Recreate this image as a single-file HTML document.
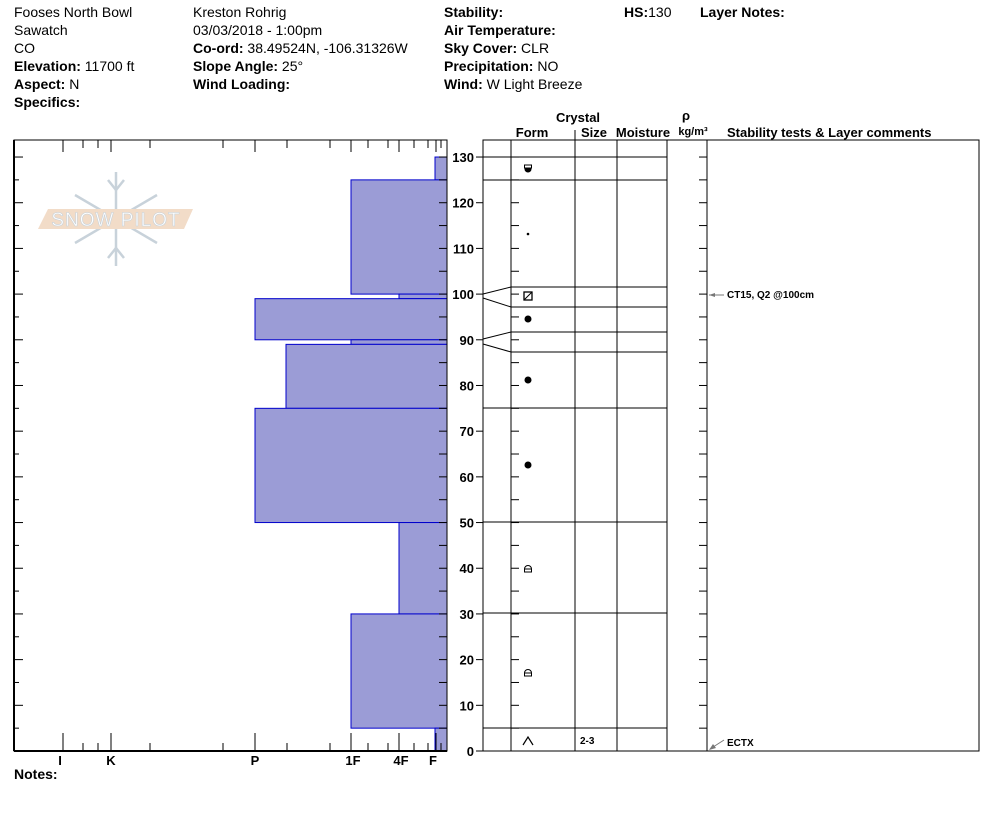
<!DOCTYPE html>
<html><head><meta charset="utf-8"><style>
body{margin:0;background:#fff;width:994px;height:840px;overflow:hidden;font-family:"Liberation Sans",Arial,sans-serif}
svg{position:absolute;left:0;top:0}
</style></head><body>
<svg id="s" width="994" height="840" xmlns="http://www.w3.org/2000/svg" font-family="Liberation Sans, Arial, sans-serif">
<g font-size="14" fill="#000">
<text x="14" y="17">Fooses North Bowl</text>
<text x="14" y="35">Sawatch</text>
<text x="14" y="53">CO</text>
<text x="14" y="71"><tspan font-weight="bold">Elevation:</tspan> 11700 ft</text>
<text x="14" y="89"><tspan font-weight="bold">Aspect:</tspan> N</text>
<text x="14" y="107" font-weight="bold">Specifics:</text>
<text x="193" y="17">Kreston Rohrig</text>
<text x="193" y="35">03/03/2018 - 1:00pm</text>
<text x="193" y="53"><tspan font-weight="bold">Co-ord:</tspan> 38.49524N, -106.31326W</text>
<text x="193" y="71"><tspan font-weight="bold">Slope Angle:</tspan> 25°</text>
<text x="193" y="89" font-weight="bold">Wind Loading:</text>
<text x="444" y="17" font-weight="bold">Stability:</text>
<text x="444" y="35" font-weight="bold">Air Temperature:</text>
<text x="444" y="53"><tspan font-weight="bold">Sky Cover:</tspan> CLR</text>
<text x="444" y="71"><tspan font-weight="bold">Precipitation:</tspan> NO</text>
<text x="444" y="89"><tspan font-weight="bold">Wind:</tspan>  W Light Breeze</text>
<text x="624" y="17"><tspan font-weight="bold">HS:</tspan>130</text>
<text x="700" y="17" font-weight="bold">Layer Notes:</text>
<text x="14" y="779" font-weight="bold">Notes:</text>
</g>
<!-- logo -->
<g stroke="#c8d2da" stroke-width="2.5" fill="none">
<line x1="116" y1="172" x2="116" y2="266"/>
<line x1="75" y1="195" x2="157" y2="243"/>
<line x1="75" y1="243" x2="157" y2="195"/>
<polyline points="108,180 116,190 124,180"/><polyline points="108,258 116,248 124,258"/>
</g>
<polygon points="48,209 193,209 184,229 38,229" fill="#f2dcc8"/>
<text x="116" y="226" text-anchor="middle" font-size="19" fill="#fff" stroke="#c8d2da" stroke-width="0.6" letter-spacing="1">SNOW PILOT</text>
<g id="g" stroke="#000" fill="none" stroke-width="1"></g>
<g font-size="13" font-weight="bold" fill="#000">
<text x="578" y="122" text-anchor="middle">Crystal</text>
<text x="532" y="137" text-anchor="middle">Form</text>
<text x="594" y="137" text-anchor="middle">Size</text>
<text x="643" y="137" text-anchor="middle">Moisture</text>
<text x="686" y="120" text-anchor="middle">ρ</text>
<text x="693" y="135" text-anchor="middle" font-size="11">kg/m³</text>
<text x="727" y="137">Stability tests &amp; Layer comments</text>
<text x="60" y="765" text-anchor="middle">I</text>
<text x="111" y="765" text-anchor="middle">K</text>
<text x="255" y="765" text-anchor="middle">P</text>
<text x="353" y="765" text-anchor="middle">1F</text>
<text x="401" y="765" text-anchor="middle">4F</text>
<text x="433" y="765" text-anchor="middle">F</text>
<text x="580" y="744" font-size="10">2-3</text>
<text x="727" y="298" font-size="10">CT15, Q2 @100cm</text>
<text x="727" y="746" font-size="10">ECTX</text>
</g>
<g fill="#000">
<circle cx="528" cy="169" r="3.5"/><rect x="524.5" y="165" width="7" height="3" fill="#fff" stroke="#000" stroke-width="1"/>
<circle cx="528" cy="234" r="1.3"/>
<rect x="524" y="292" width="8" height="8" fill="none" stroke="#000" stroke-width="1.3"/><line x1="524" y1="300" x2="532" y2="292" stroke="#000"/>
<circle cx="528" cy="319" r="3.5"/><circle cx="528" cy="380" r="3.5"/><circle cx="528" cy="465" r="3.5"/>
<path d="M524.5 572 v-3 a3.5 3.5 0 0 1 7 0 v3 z M524.5 569 h7" fill="none" stroke="#000"/>
<path d="M524.5 676 v-3 a3.5 3.5 0 0 1 7 0 v3 z M524.5 673 h7" fill="none" stroke="#000"/>
<polyline points="523,745 528,737 533,745" fill="none" stroke="#000" stroke-width="1.2"/>
<line x1="709" y1="295" x2="724" y2="295" stroke="#777"/><polygon points="709,295 715,293 715,297" fill="#777"/>
<line x1="710" y1="749" x2="724" y2="740" stroke="#777"/><polygon points="709,750 713,744 716,748" fill="#777"/>
</g>
</svg>
<script>
var g=document.getElementById('g'),h='';
function Y(c){return 751-4.569*c}
function L(a,b,c,d,col,w){h+='<line x1="'+a+'" y1="'+b+'" x2="'+c+'" y2="'+d+'"'+(col?' stroke="'+col+'"':'')+(w?' stroke-width="'+w+'"':'')+'/>';}
var bars=[[130,125,435],[125,100,351],[100,99,399],[99,90,255],[90,89,351],[89,75,286],[75,50,255],[50,30,399],[30,5,351],[5,0,435]];
bars.forEach(function(b){var y1=Y(b[0]),y2=Y(b[1]);h+='<rect x="'+b[2]+'" y="'+y1+'" width="'+(447-b[2])+'" height="'+(y2-y1)+'" fill="#9b9cd6" stroke="#0000cc" stroke-width="1"/>';});
h+='<rect x="14" y="140" width="433" height="611" fill="none" stroke="#000"/>';
L(14,751,447,751,null,2);L(14,140,14,751,null,2);
var tx=[63,83,98,111,150,223,255,287,330,351,368,388,399,414,428,436,441];
var tl=[18,8,8,18,8,8,18,8,8,18,8,8,18,8,8,18,8];
tx.forEach(function(x,i){L(x,751,x,751-tl[i]);L(x,140,x,140+(tl[i]>10?12:8));});
for(var c=0;c<=130;c+=5){var y=Y(c);L(14,y,14+(c%10==0?9:5),y);L(447,y,439,y);
 if(c%10==0){L(483,y,476,y);h+='<text x="474" y="'+(y+5)+'" text-anchor="end" font-size="13" font-weight="bold" fill="#000" stroke="none">'+c+'</text>';}
 L(511,y,519,y);L(707,y,699,y);}
h+='<rect x="483" y="140" width="496" height="611" fill="none" stroke="#000"/>';
[511,575,617,667,707].forEach(function(x){L(x,140,x,751);});
L(575,130,575,140);
[[130,157],[125,180],[75,408],[50,522],[30,613],[5,728]].forEach(function(a){L(483,a[1],667,a[1]);});
[287,307,332,352].forEach(function(y){L(511,y,667,y);});
L(483,294,511,287);L(483,298,511,307);L(483,339,511,332);L(483,344,511,352);
g.innerHTML=h;
</script>
</body></html>
